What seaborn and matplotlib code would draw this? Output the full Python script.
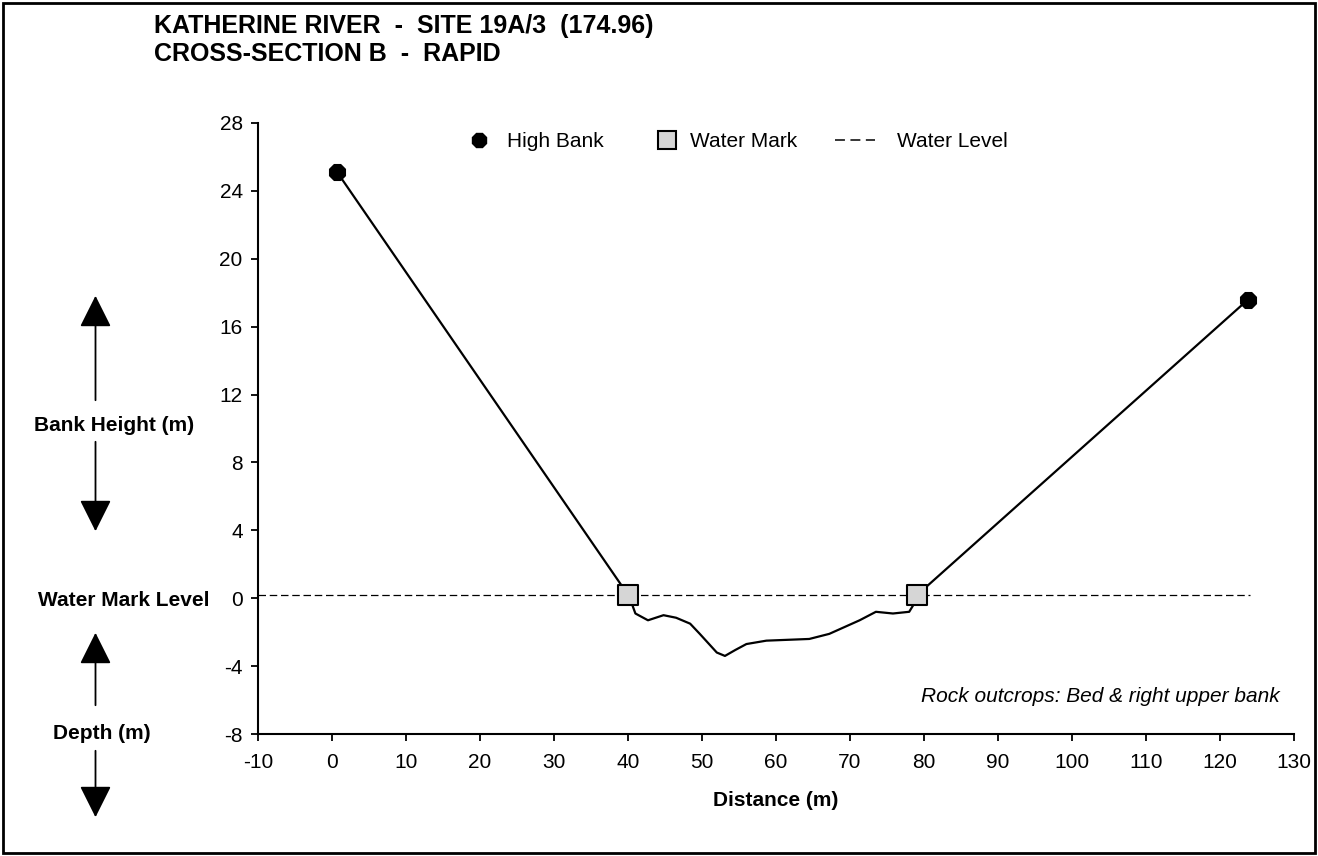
import matplotlib
matplotlib.use("Agg")
import matplotlib.pyplot as plt
import pandas as pd
import seaborn as sns
from matplotlib.lines import Line2D
from matplotlib.patches import Rectangle, FancyArrowPatch

# ------------------------------------------------
# Data read off the reference cross-section
# ------------------------------------------------
profile_dist = [0.7, 40.0, 40.5, 41.0, 42.7, 44.8, 46.5, 48.4, 49.7, 52.0, 53.1,
                54.5, 56.0, 58.7, 64.5, 67.2, 71.3, 73.5, 75.8, 78.0, 78.7, 79.1, 123.8]
profile_elev = [25.1, 0.2, -0.3, -0.9, -1.3, -1.0, -1.15, -1.5, -2.1, -3.2, -3.4,
                -3.05, -2.7, -2.5, -2.4, -2.1, -1.3, -0.8, -0.9, -0.8, -0.3, 0.2, 17.6]

high_bank_dist = [0.7, 123.8]
high_bank_elev = [25.1, 17.6]

water_mark_dist = [40.0, 79.1]
water_mark_elev = [0.2, 0.2]

water_level_dist = [-10, 124]
water_level_elev = [0.2, 0.2]

x_ticks = list(range(-10, 131, 10))
y_ticks = list(range(-8, 29, 4))

df_profile = pd.DataFrame({"dist": profile_dist, "elev": profile_elev})
df_bank = pd.DataFrame({"dist": high_bank_dist, "elev": high_bank_elev})
df_mark = pd.DataFrame({"dist": water_mark_dist, "elev": water_mark_elev})
df_level = pd.DataFrame({"dist": water_level_dist, "elev": water_level_elev})

# ------------------------------------------------
# Style
# ------------------------------------------------
sns.set_style("ticks")
plt.rcParams["font.family"] = ["Liberation Sans", "DejaVu Sans"]
plt.rcParams["axes.unicode_minus"] = False
for key in ["text.color", "axes.labelcolor", "xtick.color", "ytick.color"]:
    plt.rcParams[key] = "black"

W, H = 1318, 856
fig = plt.figure(figsize=(W / 100, H / 100), dpi=100)
ax = fig.add_axes([258 / W, 1 - 734 / H, 1036 / W, 611 / H])

MARK_GREY = "#d6d6d6"


def fx(px):
    return px / W


def fy(py):
    return 1 - py / H


# ------------------------------------------------
# Draw cross-section
# ------------------------------------------------
sns.lineplot(data=df_level, x="dist", y="elev", ax=ax, color="black",
             linewidth=0.9, linestyle=(0, (6, 3)), estimator=None, sort=False)
sns.lineplot(data=df_profile, x="dist", y="elev", ax=ax, color="black",
             linewidth=1.6, estimator=None, sort=False)
sns.scatterplot(data=df_bank, x="dist", y="elev", ax=ax, marker="8",
                s=150, color="black", edgecolor="black", zorder=5)
sns.scatterplot(data=df_mark, x="dist", y="elev", ax=ax, marker="s",
                s=220, color=MARK_GREY, edgecolor="black", linewidth=1.5,
                zorder=5)

ax.set_xlim(-10, 130)
ax.set_ylim(-8, 28)
ax.set_xticks(x_ticks)
ax.set_yticks(y_ticks)
ax.tick_params(labelsize=15, length=5, width=1.3)
ax.tick_params(axis="y", pad=6)
ax.tick_params(axis="x", pad=9)
sns.despine(ax=ax)
for side in ["left", "bottom"]:
    ax.spines[side].set_linewidth(1.5)
    ax.spines[side].set_color("black")

ax.set_xlabel("Distance (m)", fontsize=15, fontweight="bold")
ax.xaxis.label.set_va("baseline")
ax.xaxis.set_label_coords(0.5, (734 - 806) / 611)
ax.set_ylabel("")

# ------------------------------------------------
# Legend (drawn by hand to match the spacing)
# ------------------------------------------------
fig.add_artist(Line2D([fx(479)], [fy(140)], marker="8", color="black",
                      markersize=11.5, linestyle="none"))
fig.text(fx(507), fy(147), "High Bank", fontsize=15, va="baseline")
fig.add_artist(Line2D([fx(667)], [fy(140)], marker="s", linestyle="none",
                      markerfacecolor=MARK_GREY, markeredgecolor="black",
                      markeredgewidth=1.5, markersize=13))
fig.text(fx(690), fy(147), "Water Mark", fontsize=15, va="baseline")
fig.add_artist(Line2D([fx(835), fx(875)], [fy(140), fy(140)], color="black",
                      linewidth=1.1, linestyle=(0, (6.5, 3.6))))
fig.text(fx(897), fy(147), "Water Level", fontsize=15, va="baseline")

fig.text(fx(1280), fy(702), "Rock outcrops: Bed & right upper bank",
         ha="right", va="baseline", fontsize=15, style="italic")

# ------------------------------------------------
# Titles and side annotations
# ------------------------------------------------
fig.text(fx(154), fy(33), "KATHERINE RIVER  -  SITE 19A/3  (174.96)",
         fontsize=18, fontweight="bold", va="baseline")
fig.text(fx(154), fy(61), "CROSS-SECTION B  -  RAPID",
         fontsize=18, fontweight="bold", va="baseline")

fig.text(fx(114), fy(431), "Bank Height (m)", fontsize=15,
         fontweight="bold", ha="center", va="baseline")
fig.text(fx(124), fy(606), "Water Mark Level", fontsize=15,
         fontweight="bold", ha="center", va="baseline")
fig.text(fx(102), fy(739), "Depth (m)", fontsize=15,
         fontweight="bold", ha="center", va="baseline")

arrow_x = fx(95.5)
for y_from, y_to in [(403, 293), (439, 534), (708, 630), (748, 820)]:
    fig.add_artist(FancyArrowPatch(
        (arrow_x, fy(y_from)), (arrow_x, fy(y_to)),
        transform=fig.transFigure,
        arrowstyle="-|>,head_length=1.1,head_width=0.55",
        mutation_scale=18, color="black", linewidth=1.3))

# Figure border
fig.add_artist(Rectangle((0.002, 0.003), 0.996, 0.994, transform=fig.transFigure,
                         fill=False, edgecolor="black", linewidth=2))

fig.savefig("out.png", dpi=100)
